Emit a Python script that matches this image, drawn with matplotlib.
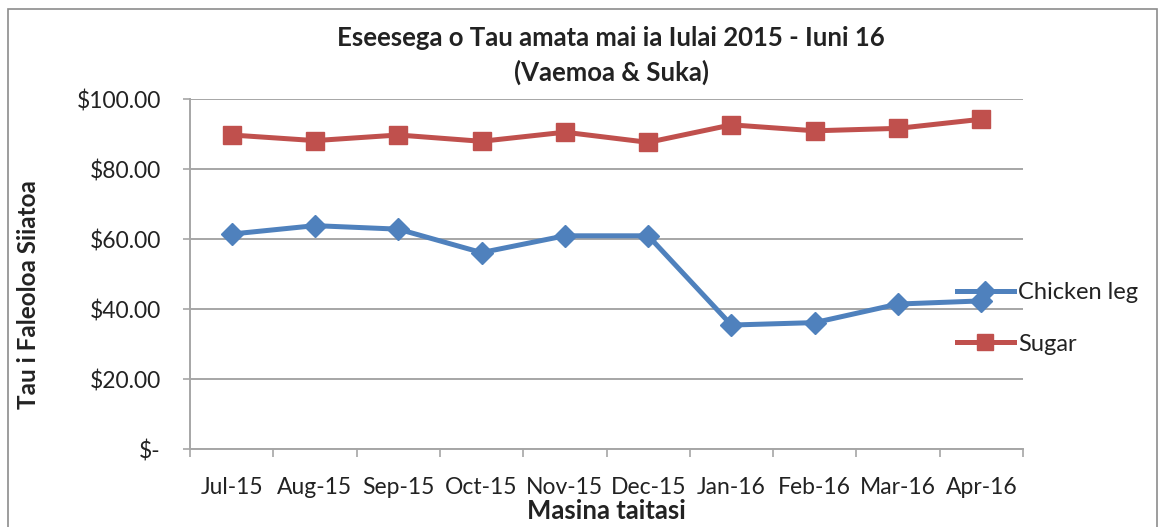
#!/usr/bin/env python3
"""Chicken leg and sugar prices, Jul 2015 - Apr 2016."""

import matplotlib

matplotlib.use("Agg")
import matplotlib.pyplot as plt
from matplotlib.patches import Rectangle
from matplotlib.ticker import FixedLocator, FuncFormatter


months = ["Jul-15", "Aug-15", "Sep-15", "Oct-15", "Nov-15",
          "Dec-15", "Jan-16", "Feb-16", "Mar-16", "Apr-16"]
chicken_leg = [61.5, 63.9, 62.9, 56.2, 61.0, 61.0, 35.5, 36.2, 41.5, 42.4]
sugar = [89.8, 88.2, 89.8, 88.0, 90.6, 87.7, 92.7, 91.0, 91.7, 94.3]

BLUE = "#4F81BD"
RED = "#C0504D"
GRID = "#A6A6A6"
TEXT = "#222222"

plt.rcParams["font.family"] = ["Lato", "DejaVu Sans"]

W, H = 1164, 527
fig = plt.figure(figsize=(W / 100, H / 100), dpi=100)
ax = fig.add_axes([190 / W, 1 - 449.3 / H, 833 / W, 350 / H])

x = list(range(len(months)))
ax.plot(x, chicken_leg, color=BLUE, lw=3.6, marker="D", markersize=11.5,
        label="Chicken leg", solid_joinstyle="round")
ax.plot(x, sugar, color=RED, lw=3.6, marker="s", markersize=13,
        label="Sugar", solid_joinstyle="round")

ax.set_xlim(-0.5, len(months) - 0.5)
ax.set_ylim(0, 100)
ax.set_yticks(range(0, 101, 20))
ax.yaxis.set_major_formatter(FuncFormatter(lambda v, _: "$-" if v == 0 else f"${v:.2f}"))
ax.set_xticks(x)
ax.set_xticklabels(months)
ax.xaxis.set_minor_locator(FixedLocator([i - 0.5 for i in range(len(months) + 1)]))

ax.grid(axis="y", color=GRID, lw=1.4)
ax.set_axisbelow(True)
for side in ("top", "right", "bottom"):
    ax.spines[side].set_visible(False)
ax.spines["left"].set_color(GRID)
ax.spines["left"].set_linewidth(1.4)
ax.axhline(0, color=GRID, lw=1.4, zorder=0.5, clip_on=False)

ax.tick_params(axis="y", length=5, width=1.2, color=GRID, pad=16, labelsize=16.5, labelcolor=TEXT)
ax.tick_params(axis="x", which="major", length=0, pad=20, labelsize=16.5, labelcolor=TEXT)
ax.tick_params(axis="x", which="minor", length=6, width=1.2, color=GRID)

ax.set_xlabel("Masina taitasi", fontsize=18.5, fontweight="bold", color=TEXT, labelpad=1)
ax.set_ylabel("Tau i Faleoloa Siiatoa", fontsize=17.5, fontweight="bold", color=TEXT,
              va="center")
ax.yaxis.set_label_coords((29 - 190) / 833, (449.3 - 295) / 350)

fig.text(611 / W, 1 - 38 / H, "Eseesega o Tau amata mai ia Iulai 2015 - Iuni 16",
         ha="center", va="center", fontsize=18.5, fontweight="bold", color=TEXT)
fig.text(611 / W, 1 - 72 / H, "(Vaemoa & Suka)",
         ha="center", va="center", fontsize=18.5, fontweight="bold", color=TEXT)

ax.legend(loc="upper left", bbox_to_anchor=(957 / W, 1 - 282 / H),
          bbox_transform=fig.transFigure, frameon=False, fontsize=17,
          handlelength=2.4, handletextpad=0.2, labelspacing=1.3,
          borderpad=0, borderaxespad=0, labelcolor=TEXT, markerscale=0.9)

fig.patches.append(Rectangle((8 / W, -0.05), 1149 / W, 1.05 - 9 / H,
                             transform=fig.transFigure, fill=False,
                             edgecolor="#8C8C8C", lw=1.2))

fig.savefig("out.png", dpi=100)
